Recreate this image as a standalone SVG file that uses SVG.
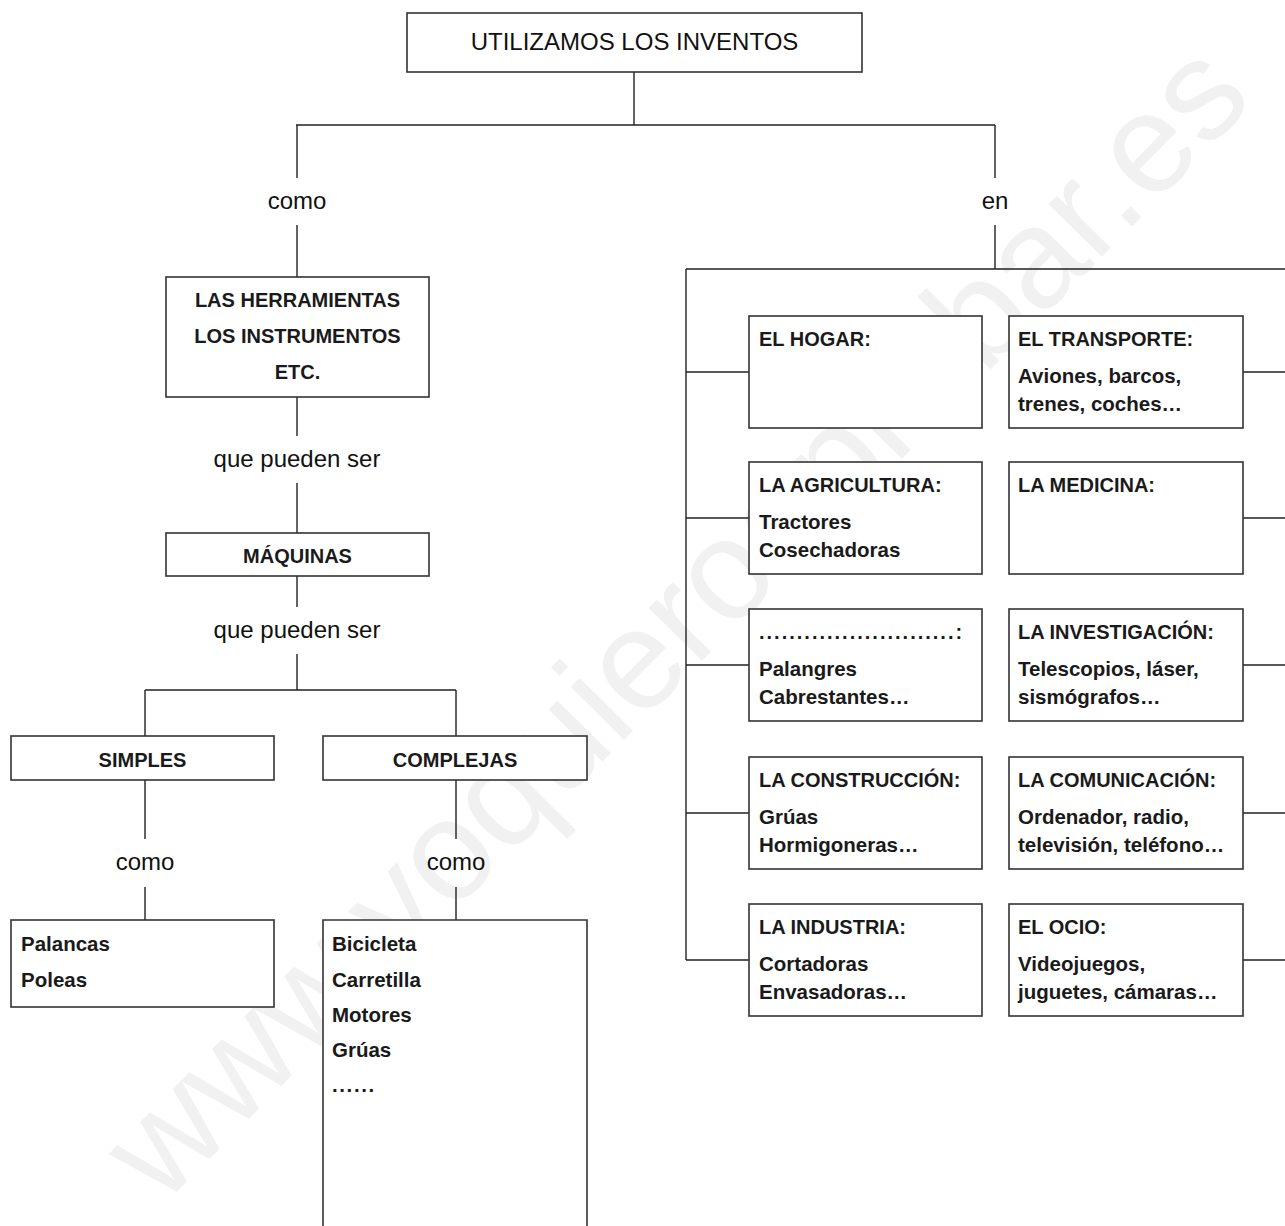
<svg xmlns="http://www.w3.org/2000/svg" width="1285" height="1226" viewBox="0 0 1285 1226">
<style>
.box{fill:#fff;stroke:#333;stroke-width:1.6}
.ln{fill:none;stroke:#222;stroke-width:1.4}
.reg{font-family:"Liberation Sans",Arial,sans-serif;font-size:24px;fill:#111}
.b{font-family:"Liberation Sans",Arial,sans-serif;font-size:20px;font-weight:bold;fill:#1a1a1a}
.bi{font-family:"Liberation Sans",Arial,sans-serif;font-size:20.5px;font-weight:bold;fill:#1a1a1a}
.c{text-anchor:middle}
.wm{font-family:"Liberation Sans",Arial,sans-serif;font-size:142px;fill:#f1f1f1}
</style>
<rect width="1285" height="1226" fill="#fff"/>
<text class="wm c" x="675" y="668" transform="rotate(-45.3 675 620)">www.yoquieroaprobar.es</text>

<g id="connectors">
  <path class="ln" d="M634 72V125M296 125H995"/>
  <path class="ln" d="M297 125V178M297 225V277M297 397V436M297 483V533M297 576V607M297 654V690M145 690H456M145 690V736M456 690V736"/>
  <path class="ln" d="M145 780V839M145 887V920M456 780V839M456 887V920"/>
  <path class="ln" d="M995 125V178M995 225V269M686 269H1285M686 269V960"/>
  <path class="ln" d="M686 372H749M686 518H749M686 665H749M686 813H749M686 960H749"/>
  <path class="ln" d="M1243 372H1285M1243 518H1285M1243 665H1285M1243 813H1285M1243 960H1285"/>
  <text class="reg c" x="297" y="209">como</text>
  <text class="reg c" x="995" y="209">en</text>
  <text class="reg c" x="297" y="467">que pueden ser</text>
  <text class="reg c" x="297" y="638">que pueden ser</text>
  <text class="reg c" x="145" y="870">como</text>
  <text class="reg c" x="456" y="870">como</text>
</g>

<g id="n-title">
  <rect class="box" x="407" y="13" width="455" height="59"/>
  <text class="reg c" x="634.5" y="50">UTILIZAMOS LOS INVENTOS</text>
</g>
<g id="n-herramientas">
  <rect class="box" x="166" y="277" width="263" height="120"/>
  <text class="b c" x="297.5" y="307">LAS HERRAMIENTAS</text>
  <text class="b c" x="297.5" y="343">LOS INSTRUMENTOS</text>
  <text class="b c" x="297.5" y="379">ETC.</text>
</g>
<g id="n-maquinas">
  <rect class="box" x="166" y="533" width="263" height="43"/>
  <text class="b c" x="297.5" y="563">MÁQUINAS</text>
</g>
<g id="n-simples">
  <rect class="box" x="11" y="736" width="263" height="44"/>
  <text class="b c" x="142.5" y="767">SIMPLES</text>
</g>
<g id="n-complejas">
  <rect class="box" x="323" y="736" width="264" height="44"/>
  <text class="b c" x="455" y="767">COMPLEJAS</text>
</g>
<g id="n-simples-list">
  <rect class="box" x="11" y="920" width="263" height="87"/>
  <text class="bi" x="21" y="951">Palancas</text>
  <text class="bi" x="21" y="987">Poleas</text>
</g>
<g id="n-complejas-list">
  <path class="box" d="M323 1227V920H587V1227"/>
  <text class="bi" x="332" y="951">Bicicleta</text>
  <text class="bi" x="332" y="987">Carretilla</text>
  <text class="bi" x="332" y="1022">Motores</text>
  <text class="bi" x="332" y="1057">Grúas</text>
  <text class="bi" x="332" y="1092" letter-spacing="1.6">......</text>
</g>

<g id="n-hogar">
  <rect class="box" x="749" y="316" width="233" height="112"/>
  <text class="b" x="759" y="346">EL HOGAR:</text>
</g>
<g id="n-transporte">
  <rect class="box" x="1009" y="316" width="234" height="112"/>
  <text class="b" x="1018" y="346">EL TRANSPORTE:</text>
  <text class="bi" x="1018" y="383">Aviones, barcos,</text>
  <text class="bi" x="1018" y="411">trenes, coches…</text>
</g>
<g id="n-agricultura">
  <rect class="box" x="749" y="462" width="233" height="112"/>
  <text class="b" x="759" y="492">LA AGRICULTURA:</text>
  <text class="bi" x="759" y="529">Tractores</text>
  <text class="bi" x="759" y="557">Cosechadoras</text>
</g>
<g id="n-medicina">
  <rect class="box" x="1009" y="462" width="234" height="112"/>
  <text class="b" x="1018" y="492">LA MEDICINA:</text>
</g>
<g id="n-pesca">
  <rect class="box" x="749" y="609" width="233" height="112"/>
  <text class="b" x="759" y="639" letter-spacing="2">..........................:</text>
  <text class="bi" x="759" y="676">Palangres</text>
  <text class="bi" x="759" y="704">Cabrestantes…</text>
</g>
<g id="n-investigacion">
  <rect class="box" x="1009" y="609" width="234" height="112"/>
  <text class="b" x="1018" y="639">LA INVESTIGACIÓN:</text>
  <text class="bi" x="1018" y="676">Telescopios, láser,</text>
  <text class="bi" x="1018" y="704">sismógrafos…</text>
</g>
<g id="n-construccion">
  <rect class="box" x="749" y="757" width="233" height="112"/>
  <text class="b" x="759" y="787">LA CONSTRUCCIÓN:</text>
  <text class="bi" x="759" y="824">Grúas</text>
  <text class="bi" x="759" y="852">Hormigoneras…</text>
</g>
<g id="n-comunicacion">
  <rect class="box" x="1009" y="757" width="234" height="112"/>
  <text class="b" x="1018" y="787">LA COMUNICACIÓN:</text>
  <text class="bi" x="1018" y="824">Ordenador, radio,</text>
  <text class="bi" x="1018" y="852">televisión, teléfono…</text>
</g>
<g id="n-industria">
  <rect class="box" x="749" y="904" width="233" height="112"/>
  <text class="b" x="759" y="934">LA INDUSTRIA:</text>
  <text class="bi" x="759" y="971">Cortadoras</text>
  <text class="bi" x="759" y="999">Envasadoras…</text>
</g>
<g id="n-ocio">
  <rect class="box" x="1009" y="904" width="234" height="112"/>
  <text class="b" x="1018" y="934">EL OCIO:</text>
  <text class="bi" x="1018" y="971">Videojuegos,</text>
  <text class="bi" x="1018" y="999">juguetes, cámaras…</text>
</g>
</svg>
